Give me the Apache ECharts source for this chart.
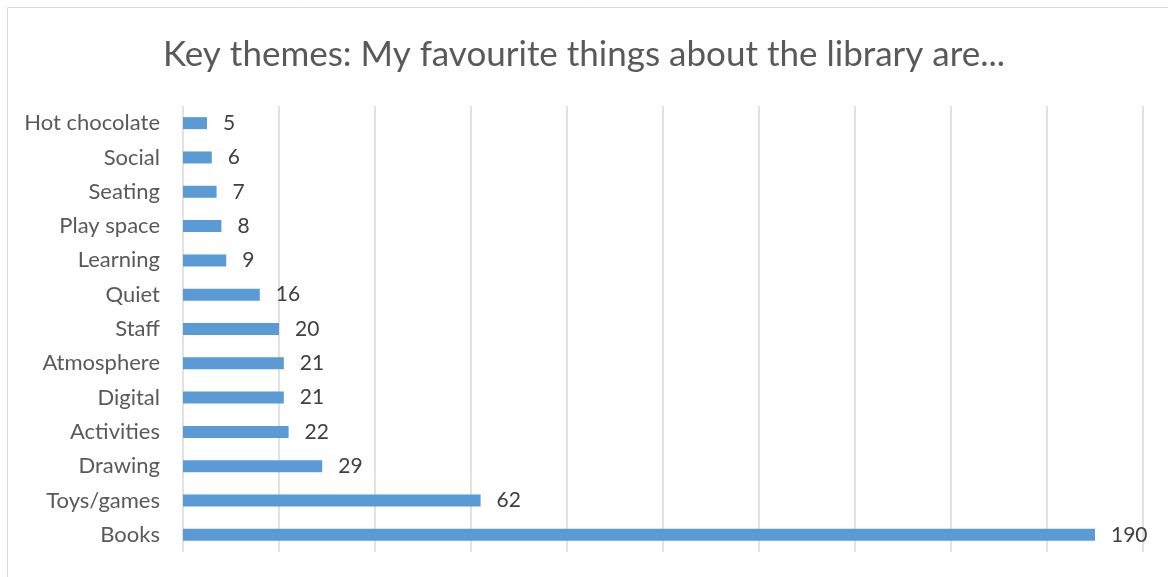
<!DOCTYPE html>
<html>
<head>
<meta charset="utf-8">
<script src="https://cdn.jsdelivr.net/npm/echarts@6/dist/echarts.min.js"></script>
<style>
  html, body { margin: 0; padding: 0; background: #fff; }
  #fig_themes { width: 1168px; height: 577px; }
</style>
</head>
<body>
<div id="fig_themes"></div>
<script>
// categories bottom to top (echarts category axis starts at the bottom)
var themes = ['Books', 'Toys/games', 'Drawing', 'Activities', 'Digital', 'Atmosphere',
    'Staff', 'Quiet', 'Learning', 'Play space', 'Seating', 'Social', 'Hot chocolate'];
var counts = [190, 62, 29, 22, 21, 21, 20, 16, 9, 8, 7, 6, 5];

var chart = echarts.init(document.getElementById('fig_themes'));

var option = {
    animation: false,
    textStyle: { fontFamily: 'Lato, sans-serif' },
    title: {
        text: 'Key themes: My favourite things about the library are...',
        left: 'center',
        top: 32,
        textStyle: {
            fontSize: 35,
            fontWeight: 'normal',
            color: '#595959',
            fontFamily: 'Lato, sans-serif'
        }
    },
    graphic: [{
        type: 'rect',
        shape: { x: 7.5, y: 7.5, width: 1200, height: 600 },
        style: { fill: 'none', stroke: '#d9d9d9', lineWidth: 1 },
        silent: true
    }],
    grid: {
        left: 183,
        right: 25,
        top: 106,
        bottom: 25,
        containLabel: false
    },
    xAxis: {
        type: 'value',
        min: 0,
        max: 200,
        interval: 20,
        axisLabel: { show: false },
        axisLine: { show: false },
        axisTick: { show: false },
        splitLine: { lineStyle: { color: '#d9d9d9', width: 1.5 } }
    },
    yAxis: {
        type: 'category',
        data: themes,
        axisLine: { show: false },
        axisTick: { show: false },
        axisLabel: {
            fontSize: 22,
            color: '#595959',
            margin: 23
        }
    },
    series: [{
        type: 'bar',
        data: counts,
        barWidth: 12,
        itemStyle: { color: '#5b9bd5' },
        label: {
            show: true,
            position: 'right',
            distance: 16,
            fontSize: 21,
            color: '#404040'
        }
    }]
};

chart.setOption(option);
</script>
</body>
</html>
